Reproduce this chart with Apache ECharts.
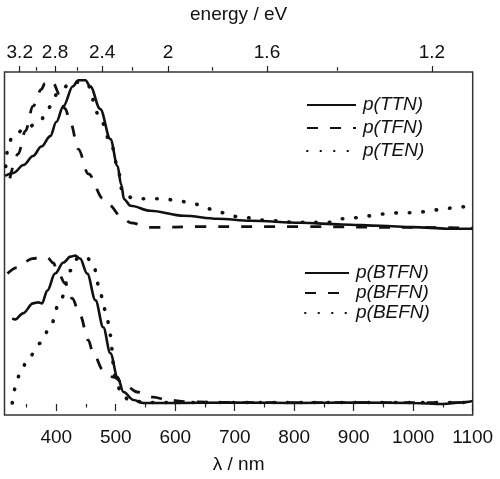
<!DOCTYPE html>
<html>
<head>
<meta charset="utf-8">
<script src="https://cdn.jsdelivr.net/npm/echarts@6/dist/echarts.min.js"></script>
<style>html,body{margin:0;padding:0;background:#fff;}#c{width:500px;height:479px;}</style>
</head>
<body>
<div id="c"></div>
<script>
// ---- data ----
const ttnWl  = [314, 328, 345, 361, 375, 390, 400, 412, 428, 437, 449, 457, 474, 491, 503, 509, 514, 525, 558, 614, 671, 727, 811, 880, 945, 1000, 1058, 1100];
const ttnAbs = [1.537, 1.557, 1.610, 1.671, 1.735, 1.805, 1.900, 2.007, 2.141, 2.181, 2.181, 2.141, 1.987, 1.785, 1.604, 1.480, 1.380, 1.336, 1.302, 1.268, 1.248, 1.235, 1.221, 1.210, 1.201, 1.192, 1.181, 1.181];

const tfnWl  = [322, 336, 348, 361, 375, 381, 388, 395, 405, 415, 424, 437, 454, 479, 486, 513, 525, 558, 642, 811, 1000, 1100];
const tfnAbs = [1.520, 1.685, 1.839, 2.007, 2.120, 2.161, 2.181, 2.161, 2.090, 1.990, 1.893, 1.718, 1.550, 1.383, 1.349, 1.248, 1.221, 1.190, 1.195, 1.195, 1.190, 1.185];

const tenWl  = [315, 318, 326, 350, 373, 386, 403, 427, 452, 471, 491, 503, 511, 520, 530, 558, 580, 605, 631, 656, 681, 705, 760, 800, 856, 878, 905, 929, 954, 979, 1004, 1018, 1043, 1068, 1094];
const tenAbs = [1.600, 1.705, 1.805, 1.860, 1.906, 1.993, 2.094, 2.174, 2.154, 1.953, 1.772, 1.604, 1.436, 1.400, 1.383, 1.383, 1.383, 1.369, 1.349, 1.315, 1.289, 1.262, 1.235, 1.225, 1.223, 1.248, 1.255, 1.268, 1.282, 1.289, 1.289, 1.295, 1.309, 1.322, 1.336];

const btfnWl  = [326, 331, 344, 361, 370, 376, 385, 398, 412, 424, 432, 440, 452, 466, 479, 491, 503, 513, 530, 546, 600, 700, 800, 900, 1000, 1050, 1080, 1100];
const btfnAbs = [0.577, 0.570, 0.611, 0.678, 0.685, 0.678, 0.765, 0.879, 0.953, 0.993, 1.000, 0.980, 0.879, 0.698, 0.517, 0.342, 0.181, 0.081, 0.027, 0.007, 0.007, 0.010, 0.007, 0.010, 0.007, 0.000, 0.010, 0.020];

const bffnWl  = [318, 334, 344, 360, 373, 385, 395, 403, 415, 427, 440, 454, 462, 479, 496, 520, 536, 563, 587, 620, 700, 900, 1100];
const bffnAbs = [0.879, 0.919, 0.953, 0.980, 0.987, 0.987, 0.950, 0.886, 0.812, 0.711, 0.597, 0.430, 0.342, 0.228, 0.181, 0.114, 0.081, 0.047, 0.027, 0.015, 0.010, 0.010, 0.010];

const befnWl  = [326, 331, 339, 353, 373, 388, 407, 424, 437, 450, 461, 474, 479, 486, 491, 496, 499, 510, 525, 560, 700, 1100];
const befnAbs = [0.007, 0.107, 0.208, 0.309, 0.409, 0.503, 0.698, 0.899, 0.987, 0.990, 0.953, 0.765, 0.664, 0.564, 0.463, 0.275, 0.181, 0.060, 0.020, 0.010, 0.010, 0.010];

const seriesNames = ['p(TTN)', 'p(TFN)', 'p(TEN)', 'p(BTFN)', 'p(BFFN)', 'p(BEFN)'];

// tick labels
const wlMajor = [400, 500, 600, 700, 800, 900, 1000, 1100];
const wlMinor = [350, 450, 550, 650, 750, 850, 950, 1050];
const eMajor = [3.2, 2.8, 2.4, 2, 1.6, 1.2];
const eMinor = [3.0, 2.6, 2.2, 1.8, 1.4];

// calibration of the top (energy) scale as drawn in the figure: position = A/E + B (nm)
const eA = 1330, eB = -77;
const eToPos = e => eA / e + eB;
const posToE = p => eA / (p - eB);

const xMin = 313, xMax = 1100;
const yMin = -0.074, yMax = 2.237;

const FONT = 'Liberation Sans, Arial, sans-serif';
const INK = '#111';

function pairs(xs, ys) { return xs.map((x, i) => [x, ys[i]]); }

const solid = { color: INK, width: 2.6, type: 'solid' };
const dashed = { color: INK, width: 2.8, type: [11, 12], cap: 'butt' };
const dotted = { color: INK, width: 3.6, type: [0.5, 13], cap: 'round' };

function mk(name, xs, ys, ls) {
  return {
    name, type: 'line', xAxisIndex: 0, yAxisIndex: 0,
    data: pairs(xs, ys), symbol: 'none', showSymbol: false,
    smooth: 0.35, smoothMonotone: 'x',
    lineStyle: ls, itemStyle: { color: INK }, animation: false
  };
}

const gridBox = { left: 4.5, right: 27.3, top: 70.7, bottom: 64 };
const tickStyle = { color: '#222', width: 1.2 };
const labelStyle = { fontSize: 19, color: '#111', fontFamily: FONT };
const legendText = { fontSize: 19, fontStyle: 'italic', color: '#111', fontFamily: FONT };
const hiddenSymbol = { color: 'rgba(0,0,0,0)', borderColor: 'rgba(0,0,0,0)', borderWidth: 0, opacity: 0 };

const option = {
  animation: false,
  backgroundColor: '#fff',
  grid: [
    Object.assign({ show: true, borderColor: '#333', borderWidth: 1.5, backgroundColor: 'transparent' }, gridBox),
    Object.assign({ show: false }, gridBox)
  ],
  xAxis: [
    {
      type: 'value', gridIndex: 0, position: 'bottom', min: xMin, max: xMax,
      axisLine: { show: false }, splitLine: { show: false },
      axisTick: { show: true, inside: false, length: 7, customValues: wlMajor, lineStyle: tickStyle },
      axisLabel: Object.assign({ customValues: wlMajor, margin: 13, formatter: v => String(v) }, labelStyle),
      name: 'λ / nm', nameLocation: 'middle', nameGap: 40,
      nameTextStyle: { fontSize: 19, color: '#111', fontFamily: FONT }
    },
    {
      type: 'value', gridIndex: 0, position: 'top', min: xMin, max: xMax,
      axisLine: { show: false }, splitLine: { show: false },
      axisTick: { show: true, inside: false, length: 6, customValues: eMajor.map(eToPos), lineStyle: tickStyle },
      axisLabel: Object.assign({
        customValues: eMajor.map(eToPos), margin: 10,
        formatter: v => String(Math.round(posToE(v) * 10) / 10)
      }, labelStyle),
      name: 'energy / eV', nameLocation: 'middle', nameGap: 48,
      nameTextStyle: { fontSize: 19, color: '#111', fontFamily: FONT }
    },
    {
      type: 'value', gridIndex: 1, position: 'bottom', min: xMin, max: xMax,
      axisLine: { show: false }, splitLine: { show: false },
      axisTick: { show: true, inside: false, length: 3.5, customValues: wlMinor, lineStyle: tickStyle },
      axisLabel: { show: false }
    },
    {
      type: 'value', gridIndex: 1, position: 'top', min: xMin, max: xMax,
      axisLine: { show: false }, splitLine: { show: false },
      axisTick: { show: true, inside: false, length: 3.5, customValues: eMinor.map(eToPos), lineStyle: tickStyle },
      axisLabel: { show: false }
    }
  ],
  yAxis: [
    { type: 'value', gridIndex: 0, min: yMin, max: yMax, axisLine: { show: false }, axisTick: { show: false }, axisLabel: { show: false }, splitLine: { show: false } },
    { type: 'value', gridIndex: 1, min: yMin, max: yMax, axisLine: { show: false }, axisTick: { show: false }, axisLabel: { show: false }, splitLine: { show: false } }
  ],
  legend: [
    {
      data: seriesNames.slice(0, 3), orient: 'vertical', left: 301, top: 89.5,
      itemWidth: 49, itemHeight: 12, itemGap: 2, selectedMode: false,
      itemStyle: hiddenSymbol,
      textStyle: Object.assign({ lineHeight: 21, padding: [0, 0, 0, 2] }, legendText)
    },
    {
      data: seriesNames.slice(3), orient: 'vertical', left: 299, top: 258,
      itemWidth: 44, itemHeight: 12, itemGap: 0, selectedMode: false,
      itemStyle: hiddenSymbol,
      textStyle: Object.assign({ lineHeight: 20, padding: [0, 0, 0, 2] }, legendText)
    }
  ],
  series: [
    mk(seriesNames[0], ttnWl, ttnAbs, solid),
    mk(seriesNames[1], tfnWl, tfnAbs, dashed),
    mk(seriesNames[2], tenWl, tenAbs, dotted),
    mk(seriesNames[3], btfnWl, btfnAbs, solid),
    mk(seriesNames[4], bffnWl, bffnAbs, dashed),
    mk(seriesNames[5], befnWl, befnAbs, dotted)
  ]
};

const chart = echarts.init(document.getElementById('c'), null, { renderer: 'canvas' });
chart.setOption(option);
</script>
</body>
</html>
